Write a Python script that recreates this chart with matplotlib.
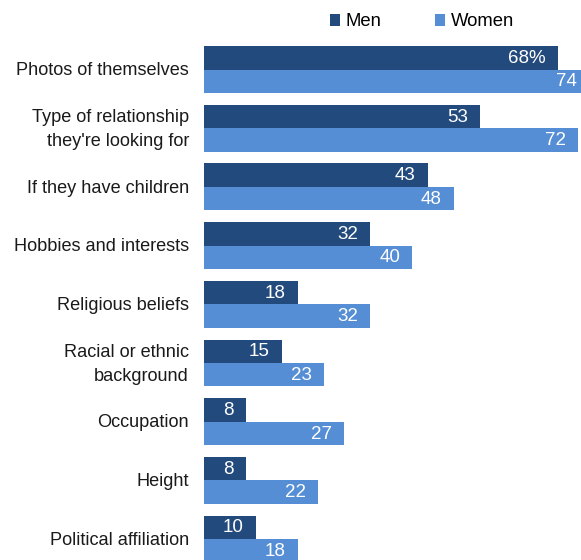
import matplotlib.pyplot as plt
import numpy as np

# Data
categories = [
    "Photos of themselves",
    "Type of relationship\nthey're looking for",
    "If they have children",
    "Hobbies and interests",
    "Religious beliefs",
    "Racial or ethnic\nbackground",
    "Occupation",
    "Height",
    "Political affiliation",
]
men = [68, 53, 43, 32, 18, 15, 8, 8, 10]
women = [74, 72, 48, 40, 32, 23, 27, 22, 18]

men_color = "#234a7c"
women_color = "#558ed5"

plt.rcParams['font.family'] = ['Liberation Sans', 'DejaVu Sans']

fig = plt.figure(figsize=(5.81, 5.60), dpi=100)
ax = fig.add_axes([204 / 581, 0, 1 - 204 / 581, 1])

y = np.arange(len(categories))
h = 0.4
ax.barh(y - h / 2, men, height=h, color=men_color, label="Men")
ax.barh(y + h / 2, women, height=h, color=women_color, label="Women")

ax.set_xlim(0, (581 - 204) / 5.2)
ax.set_ylim(8.356, -1.184)

pad = 12 / 5.2
for i, (m, w) in enumerate(zip(men, women)):
    txt = f"{m}%" if i == 0 else str(m)
    ax.text(m - pad, i - h / 2 + 0.01, txt, ha="right", va="center",
            color="white", fontsize=13.5)
    ax.text(w - pad, i + h / 2 + 0.01, str(w), ha="right", va="center",
            color="white", fontsize=13.5)
    ax.text(-15 / 5.2, i + 0.02, categories[i], ha="right", va="center",
            fontsize=13.1, color="#1a1a1a", multialignment="right",
            linespacing=1.55, clip_on=False)

ax.axis("off")

leg = fig.legend(loc="center", bbox_to_anchor=(422 / 581, 1 - 22 / 560),
                 ncol=2, frameon=False, fontsize=13.3, handlelength=0.55,
                 handleheight=0.55, handletextpad=0.3, columnspacing=2.9)

fig.savefig("out.png", dpi=100)
